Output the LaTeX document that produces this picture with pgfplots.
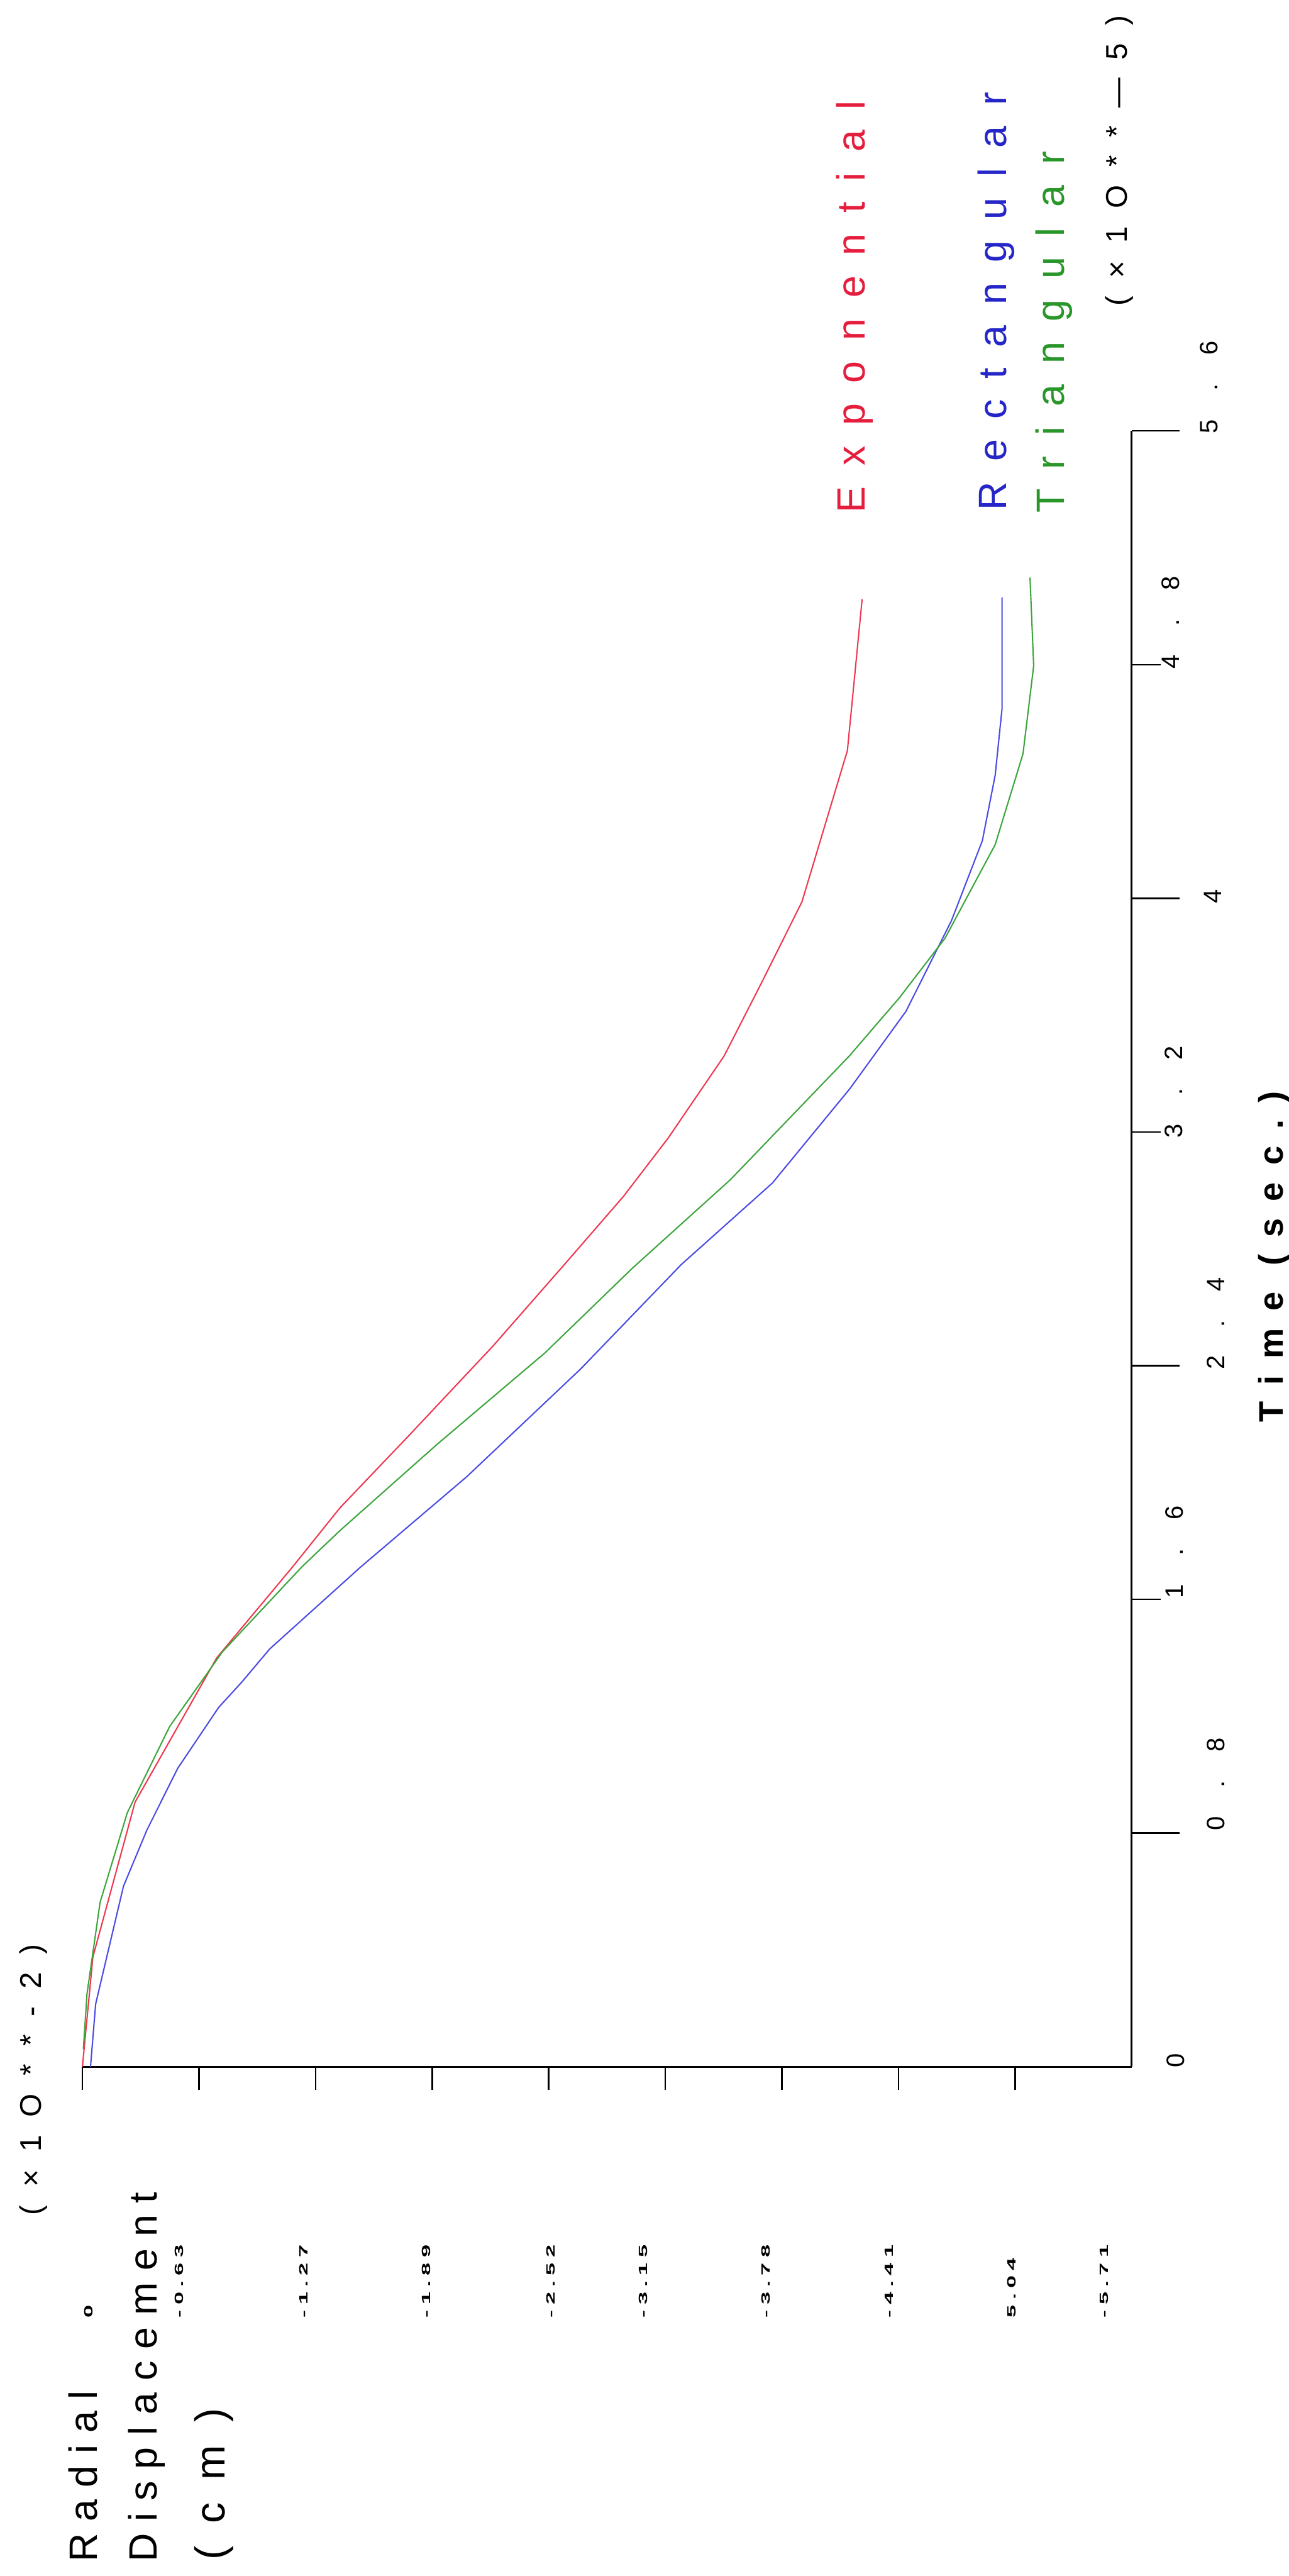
\documentclass[border=0pt]{standalone}
\usepackage{pgfplots}
\pgfplotsset{compat=1.18}
\usepackage{pgfplotstable}
\usepackage{graphicx}
\usepackage{fontspec}
\setmainfont{Liberation Sans}
\newfontfamily\legfont[LetterSpace=52]{Liberation Sans}
\newfontfamily\labfont[LetterSpace=30]{Liberation Sans}
\newfontfamily\cmfont[LetterSpace=54]{Liberation Sans}
\newfontfamily\facfont[LetterSpace=60]{Liberation Sans}
\newfontfamily\timefont[LetterSpace=50]{Liberation Sans}
\newfontfamily\plainfont{Liberation Sans}
\newcommand{\gp}{\hspace{0.08cm}}
\newcommand{\tg}{\hspace{0.84cm}}
\newcommand{\dl}[1]{\scalebox{1.9}[1]{#1}}
\definecolor{cred}{RGB}{230,30,62}
\definecolor{cblue}{RGB}{38,38,200}
\definecolor{cgreen}{RGB}{40,150,40}
\definecolor{lred}{RGB}{238,55,80}
\definecolor{lblue}{RGB}{75,75,228}
\definecolor{lgreen}{RGB}{60,165,60}

\pgfplotstableread{
t d
0 0
0.376 -0.057
0.906 -0.286
1.40 -0.73
1.71 -1.14
1.914 -1.40
2.159 -1.771
2.467 -2.23
2.746 -2.618
2.98 -2.94
3.18 -3.183
3.46 -3.486
3.72 -3.697
3.988 -3.909
4.506 -4.156
5.024 -4.236
}\expdata

\pgfplotstableread{
t d
0 -0.044
0.215 -0.072
0.618 -0.223
0.81 -0.35
1.022 -0.518
1.23 -0.74
1.317 -0.866
1.43 -1.017
1.71 -1.51
2.02 -2.088
2.389 -2.707
2.746 -3.253
3.025 -3.748
3.348 -4.169
3.613 -4.474
3.923 -4.721
4.197 -4.889
4.422 -4.959
4.649 -4.996
5.03 -4.996
}\rectdata

\pgfplotstableread{
t d
0.06 -0.005
0.25 -0.025
0.563 -0.096
0.87 -0.244
1.165 -0.474
1.42 -0.76
1.71 -1.19
1.836 -1.40
2.132 -1.929
2.444 -2.513
2.735 -2.99
3.036 -3.519
3.46 -4.166
3.66 -4.439
3.863 -4.686
4.184 -4.959
4.495 -5.11
4.796 -5.168
5.098 -5.148
}\tridata

\begin{document}
\begin{tikzpicture}
\useasboundingbox (0,0) rectangle (37.85,75.63);
\begin{axis}[
  at={(2.42cm,14.95cm)}, anchor=south west,
  scale only axis, width=30.81cm, height=48.03cm,
  xmin=0, xmax=5.7, ymin=0, ymax=5.6,
  clip=false,
  axis x line=bottom, axis y line=right,
  axis line style={-, line width=1.3pt, black},
  every outer x axis line/.append style={-},
  every outer y axis line/.append style={-},
  tick align=outside,
  tick style={line width=1.3pt, black},
  major tick length=0.85cm,
  xtick=\empty,
  extra x ticks={0,0.63333,1.26667,1.9,2.53333,3.16667,3.8,4.43333,5.06667},
  extra x tick style={major tick length=0.68cm},
  extra x tick labels={},
  ytick={1.6,3.2,4.8},
  yticklabels={},
  extra y ticks={0.8,2.4,4.0,5.6},
  extra y tick style={major tick length=1.4cm},
  extra y tick labels={},
]
\addplot[lred, line width=1.1pt] table[x expr={0-(\thisrow{d})}, y=t] {\expdata};
\addplot[lblue, line width=1.1pt] table[x expr={0-(\thisrow{d})}, y=t] {\rectdata};
\addplot[lgreen, line width=1.1pt] table[x expr={0-(\thisrow{d})}, y=t] {\tridata};
\end{axis}

% legend and titles
\begin{scope}[every node/.style={rotate=90, anchor=base west, inner sep=0pt}]
\node[text=cred, font={\legfont\fontsize{33}{40}\selectfont}] at (25.39,60.57) {Exponential};
\node[text=cblue, font={\legfont\fontsize{33}{40}\selectfont}] at (29.55,60.63) {Rectangular};
\node[text=cgreen, font={\legfont\fontsize{33}{40}\selectfont}] at (31.25,60.57) {Triangular};
\node[font={\facfont\fontsize{25}{30}\selectfont}] at (33.09,66.63) {(×1O**—5)};
\node[font={\facfont\fontsize{25}{30}\selectfont}] at (1.21,10.59) {(×1O**-2)};
\node[font={\labfont\fontsize{33}{40}\selectfont}] at (2.85,0.41) {Radial};
\node[font={\labfont\fontsize{33}{40}\selectfont}] at (4.60,0.41) {Displacement};
\node[font={\cmfont\fontsize{35}{42}\selectfont}] at (6.60,0.46) {(cm)};
\node[font={\timefont\bfseries\fontsize{28.5}{34}\selectfont}] at (37.67,33.86) {Time (sec.)};
\end{scope}

% time tick labels
\begin{scope}[every node/.style={rotate=90, anchor=west, inner sep=0pt, font={\plainfont\fontsize{21}{25}\selectfont}}]
\node at (34.52,14.92) {0};
\node at (35.71,21.89) {0\tg.\tg8};
\node at (34.49,28.70) {1\tg.\tg6};
\node at (35.71,35.41) {2\tg.\tg4};
\node at (34.46,42.21) {3\tg.\tg2};
\node at (35.61,49.10) {4};
\node at (34.37,55.99) {4\tg.\tg8};
\node at (35.50,62.90) {5\tg.\tg6};
\end{scope}

% displacement tick labels
\begin{scope}[every node/.style={rotate=90, anchor=west, inner sep=0pt, font={\plainfont\bfseries\fontsize{10}{12}\selectfont}}]
\node at (2.60,7.58) {\dl{0}};
\node at (5.27,7.58) {\dl{-\gp0\gp.\gp6\gp3}};
\node at (8.91,7.58) {\dl{-\gp1\gp.\gp2\gp7}};
\node at (12.51,7.58) {\dl{-\gp1\gp.\gp8\gp9}};
\node at (16.18,7.58) {\dl{-\gp2\gp.\gp5\gp2}};
\node at (18.89,7.58) {\dl{-\gp3\gp.\gp1\gp5}};
\node at (22.49,7.58) {\dl{-\gp3\gp.\gp7\gp8}};
\node at (26.10,7.58) {\dl{-\gp4\gp.\gp4\gp1}};
\node at (29.71,7.58) {\dl{5\gp.\gp0\gp4}};
\node at (32.43,7.58) {\dl{-\gp5\gp.\gp7\gp1}};
\end{scope}
\end{tikzpicture}
\end{document}
